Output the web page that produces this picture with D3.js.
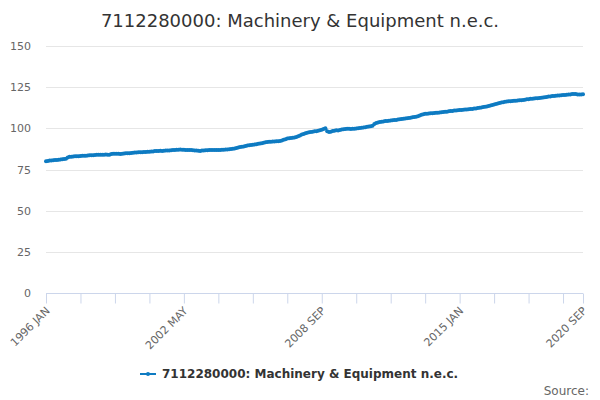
<!DOCTYPE html>
<html>
<head>
<meta charset="utf-8">
<script src="https://cdn.jsdelivr.net/npm/d3@7"></script>
<style>
  body { margin: 0; background: #fff; }
  svg { font-family: "DejaVu Sans", sans-serif; }
</style>
</head>
<body>
<svg width="600" height="400"></svg>
<script>
var title = "7112280000: Machinery & Equipment n.e.c.";
var seriesName = "7112280000: Machinery & Equipment n.e.c.";
var startYear = 1996;
var monthNames = ["JAN", "FEB", "MAR", "APR", "MAY", "JUN", "JUL", "AUG", "SEP", "OCT", "NOV", "DEC"];

// monthly index values, 1996 JAN .. 2020 SEP
var values = [
	80.0, 80.2, 80.4, 80.5, 80.6, 80.7, 80.8, 80.9, 81.1, 81.3, 81.4, 81.6,
	82.3, 82.7, 82.8, 82.9, 83.0, 83.1, 83.1, 83.2, 83.3, 83.3, 83.4, 83.5,
	83.6, 83.7, 83.7, 83.8, 83.9, 83.9, 84.0, 83.9, 84.0, 84.1, 83.9, 84.0,
	84.4, 84.5, 84.5, 84.6, 84.5, 84.4, 84.6, 84.7, 84.8, 84.8, 84.9, 85.0,
	85.2, 85.3, 85.3, 85.4, 85.4, 85.5, 85.6, 85.7, 85.8, 85.8, 85.9, 86.0,
	86.2, 86.3, 86.3, 86.4, 86.3, 86.4, 86.5, 86.6, 86.6, 86.7, 86.8, 86.9,
	87.0, 87.0, 87.1, 87.0, 87.0, 86.9, 86.9, 86.8, 86.8, 86.7, 86.6, 86.5,
	86.4, 86.3, 86.5, 86.6, 86.7, 86.7, 86.8, 86.8, 86.8, 86.9, 86.9, 86.9,
	86.9, 87.0, 87.0, 87.1, 87.2, 87.3, 87.4, 87.6, 87.8, 88.0, 88.3, 88.6,
	88.8, 89.0, 89.3, 89.5, 89.7, 89.9, 90.1, 90.2, 90.4, 90.6, 90.8, 91.0,
	91.3, 91.5, 91.7, 91.8, 91.9, 92.0, 92.0, 92.1, 92.2, 92.3, 92.6, 93.0,
	93.4, 93.8, 94.0, 94.2, 94.3, 94.5, 94.8, 95.2, 95.7, 96.2, 96.6, 97.0,
	97.3, 97.6, 97.8, 98.0, 98.2, 98.3, 98.5, 98.8, 99.1, 99.6, 100.0, 98.2,
	97.8, 98.0, 98.4, 98.6, 98.8, 98.7, 99.0, 99.3, 99.5, 99.6, 99.8, 99.7,
	99.6, 99.7, 99.8, 99.9, 100.0, 100.2, 100.3, 100.5, 100.7, 100.9, 101.1, 101.3,
	101.6, 102.6, 103.2, 103.5, 103.8, 104.0, 104.2, 104.4, 104.5, 104.6, 104.8, 104.9,
	105.0, 105.1, 105.3, 105.5, 105.7, 105.8, 106.0, 106.1, 106.3, 106.5, 106.7, 106.9,
	107.1, 107.3, 107.8, 108.3, 108.6, 108.8, 108.9, 109.0, 109.1, 109.2, 109.3, 109.4,
	109.5, 109.6, 109.8, 109.9, 110.0, 110.1, 110.3, 110.5, 110.6, 110.8, 110.9, 111.0,
	111.1, 111.2, 111.3, 111.4, 111.5, 111.6, 111.7, 111.8, 112.0, 112.1, 112.3, 112.5,
	112.7, 112.9, 113.1, 113.3, 113.6, 113.9, 114.2, 114.5, 114.8, 115.1, 115.4, 115.7,
	115.9, 116.1, 116.3, 116.4, 116.5, 116.6, 116.7, 116.8, 116.9, 117.0, 117.1, 117.2,
	117.4, 117.6, 117.7, 117.9, 118.0, 118.1, 118.2, 118.3, 118.4, 118.5, 118.7, 118.9,
	119.1, 119.3, 119.4, 119.6, 119.7, 119.8, 119.9, 120.0, 120.1, 120.2, 120.3, 120.4,
	120.5, 120.6, 120.8, 120.9, 120.8, 120.6, 120.5, 120.6, 120.7
];

var yTicks = [0, 25, 50, 75, 100, 125, 150];
var xTickStep = 19; // months between x ticks
var xLabelEvery = 4;

var svg = d3.select("svg"),
	width = +svg.attr("width"),
	height = +svg.attr("height"),
	lineColor = "#0e7bc2";

var plotLeft = 46, plotRight = 583, plotTop = 46, plotBottom = 293;

function monthLabel(i) {
	return (startYear + Math.floor(i / 12)) + " " + monthNames[i % 12];
}

var x = d3.scaleLinear().domain([0, values.length - 1]).range([plotLeft, plotRight]);
var y = d3.scaleLinear().domain([0, 150]).range([plotBottom, plotTop]);

// title
svg.append("text")
	.attr("x", width / 2)
	.attr("y", 27)
	.attr("text-anchor", "middle")
	.attr("font-size", 18)
	.attr("fill", "#333333")
	.text(title);

// grid + y labels
var grid = svg.append("g");
grid.selectAll("line")
	.data(yTicks.filter(function (d) { return d > 0; }))
	.enter().append("line")
	.attr("x1", plotLeft)
	.attr("x2", plotRight)
	.attr("y1", function (d) { return Math.round(y(d)) + 0.5; })
	.attr("y2", function (d) { return Math.round(y(d)) + 0.5; })
	.attr("stroke", "#e6e6e6");

grid.selectAll("text")
	.data(yTicks)
	.enter().append("text")
	.attr("x", 31)
	.attr("y", function (d) { return y(d) + 4; })
	.attr("text-anchor", "end")
	.attr("font-size", 11)
	.attr("fill", "#666666")
	.text(function (d) { return d; });

// x axis
var xTicks = d3.range(0, values.length, xTickStep);
if (xTicks[xTicks.length - 1] !== values.length - 1) xTicks.push(values.length - 1);
var xLabels = xTicks.filter(function (d, i) {
	return i % xLabelEvery === 0 || d === values.length - 1;
});

var xAxis = svg.append("g")
	.attr("transform", "translate(0," + (plotBottom + 0.5) + ")")
	.call(d3.axisBottom(x)
		.tickValues(xTicks)
		.tickSize(10)
		.tickFormat(function (d) { return xLabels.indexOf(d) >= 0 ? monthLabel(d) : ""; }));

xAxis.select(".domain").attr("stroke", "#ccd6eb").attr("d", "M" + plotLeft + ",0H" + plotRight);
xAxis.selectAll(".tick line").attr("stroke", "#ccd6eb");
xAxis.selectAll(".tick text")
	.attr("font-family", "DejaVu Sans, sans-serif")
	.attr("font-size", 11)
	.attr("fill", "#666666")
	.attr("text-anchor", "end")
	.attr("dy", null)
	.attr("y", 0)
	.attr("transform", "translate(4,18) rotate(-45)");

// series
var line = d3.line()
	.x(function (d, i) { return x(i); })
	.y(function (d) { return y(d); });

svg.append("path")
	.datum(values)
	.attr("fill", "none")
	.attr("stroke", lineColor)
	.attr("stroke-width", 2)
	.attr("d", line);

svg.append("g")
	.selectAll("circle")
	.data(values)
	.enter().append("circle")
	.attr("cx", function (d, i) { return x(i); })
	.attr("cy", function (d) { return y(d); })
	.attr("r", 2)
	.attr("fill", lineColor);

// legend
var legend = svg.append("g");
legend.append("line")
	.attr("x1", 140).attr("x2", 156)
	.attr("y1", 374).attr("y2", 374)
	.attr("stroke", lineColor)
	.attr("stroke-width", 2);
legend.append("circle")
	.attr("cx", 148).attr("cy", 374).attr("r", 2)
	.attr("fill", lineColor);
legend.append("text")
	.attr("x", 162)
	.attr("y", 378)
	.attr("font-size", 12)
	.attr("font-weight", "bold")
	.attr("fill", "#333333")
	.text(seriesName);

svg.append("text")
	.attr("x", 589)
	.attr("y", 395)
	.attr("text-anchor", "end")
	.attr("font-size", 12)
	.attr("fill", "#666666")
	.text("Source:");
</script>
</body>
</html>
